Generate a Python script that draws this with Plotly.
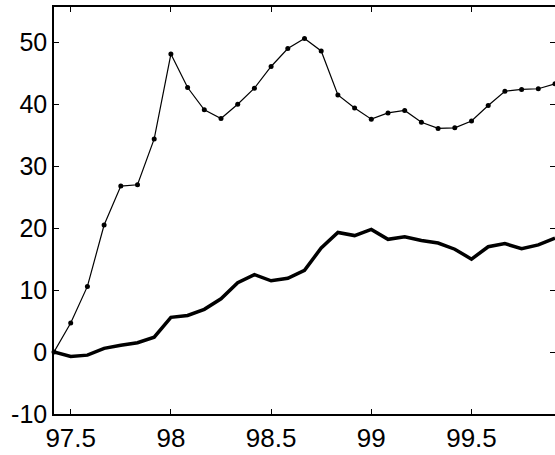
# Two monthly series, matlab-style line chart

import plotly.graph_objects as go

# Monthly time axis (decimal years)
years = [97 + (5 + i) / 12 for i in range(31)]

# Upper series (thin line with dots)
upper = [0.0, 4.7, 10.6, 20.5, 26.8, 27.0, 34.4, 48.1, 42.7, 39.1, 37.7,
         40.0, 42.6, 46.1, 49.0, 50.6, 48.6, 41.5, 39.4, 37.6, 38.6, 39.0,
         37.1, 36.1, 36.2, 37.3, 39.8, 42.1, 42.4, 42.5, 43.3]

# Lower series (thick line)
lower = [0.0, -0.7, -0.5, 0.6, 1.1, 1.5, 2.4, 5.6, 5.9, 6.9, 8.6,
         11.2, 12.5, 11.5, 11.9, 13.2, 16.8, 19.3, 18.8, 19.8, 18.2, 18.6,
         18.0, 17.6, 16.6, 15.0, 17.0, 17.5, 16.7, 17.3, 18.4]

x_ticks = [97.5, 98, 98.5, 99, 99.5]
y_ticks = [-10, 0, 10, 20, 30, 40, 50]

fig = go.Figure()
fig.add_trace(go.Scatter(
    x=years, y=upper, mode="lines+markers",
    line=dict(color="black", width=1.2),
    marker=dict(color="black", size=5),
    cliponaxis=False,
))
fig.add_trace(go.Scatter(
    x=years, y=lower, mode="lines",
    line=dict(color="black", width=3.5),
))

font = "Liberation Sans, Arial, sans-serif"
axis_style = dict(
    showgrid=False, zeroline=False, automargin=False,
    showline=True, linecolor="black", linewidth=1.5, mirror="ticks",
    ticks="inside", ticklen=5, tickwidth=1, tickcolor="black",
)

fig.update_xaxes(range=[years[0], years[-1]], tickvals=x_ticks,
                 ticktext=[f"{v:g}" for v in x_ticks], ticklabelstandoff=0,
                 tickfont=dict(family=font, size=26, color="black"),
                 **axis_style)
fig.update_yaxes(range=[-10, 55.7], tickvals=y_ticks,
                 ticktext=[f"{v:g}" for v in y_ticks],
                 tickfont=dict(family=font, size=25, color="black"),
                 **axis_style)

fig.update_layout(
    width=555, height=455,
    margin=dict(l=54, r=0, t=7, b=41),
    plot_bgcolor="white", paper_bgcolor="white",
    showlegend=False,
)

# body margin would push the 555x455 figure out of the window
fig.write_html("out.html", config={"displayModeBar": False},
               post_script="document.body.style.margin='0';")
